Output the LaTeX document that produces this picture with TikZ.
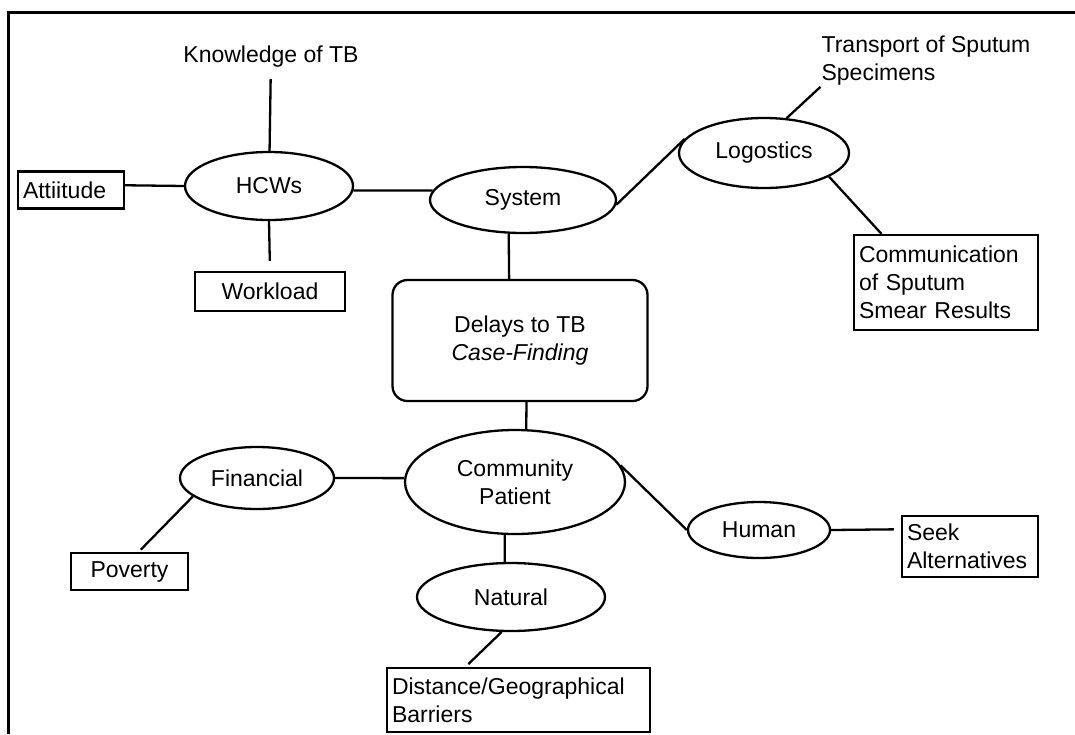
\documentclass[tikz,border=0pt]{standalone}
\usepackage{fontspec}
\setmainfont{Liberation Sans}
\usetikzlibrary{shapes.geometric}

\begin{document}
\begin{tikzpicture}[x=1pt,y=-1pt,line width=2.3pt,
	every node/.style={font=\fontsize{23}{28}\selectfont},
	oval/.style={draw,ellipse,inner sep=0pt},
	box/.style={draw,rectangle,inner xsep=5pt,inner ysep=2pt},
	lbox/.style={box,align=left}]
	\useasboundingbox (0,0) rectangle (1075,734);
	\draw[line width=3pt] (8,734) -- (8,12) -- (1075,12);
	% upper part
	\node (know) at (271,57) {Knowledge of TB};
	\node[oval,minimum width=168pt,minimum height=68pt] (hcw) at (269,186) {HCWs};
	\node[lbox,text width=96pt,minimum height=37pt] (att) at (71,190) {Attiitude};
	\node[box,minimum width=150pt,minimum height=39pt] (wl) at (270,291.5) {Workload};
	\node[oval,minimum width=186pt,minimum height=66pt] (sys) at (523,200) {System};
	\node[oval,minimum width=170pt,minimum height=70pt] (log) at (764,153) {Logostics};
	\node[align=left,inner sep=0pt] (trn) at (926,61) {Transport of Sputum\\Specimens};
	\node[lbox,text width=174pt,minimum height=95pt] (com) at (946,282.5) {Communication\\of Sputum\\Smear Results};
	\node[box,rounded corners=15pt,align=center,minimum width=255pt,minimum height=121pt] (dl) at (520,340.5) {Delays to TB\\\textit{Case-Finding}};
	% lower part
	\node[oval,minimum width=220pt,minimum height=104pt,align=center] (cp) at (515,482) {Community\\Patient};
	\node[oval,minimum width=154pt,minimum height=62pt] (fin) at (257,478) {Financial};
	\node[box,minimum width=117pt,minimum height=37pt] (pov) at (129.5,571.5) {Poverty};
	\node[oval,minimum width=188pt,minimum height=68pt] (nat) at (511,597) {Natural};
	\node[lbox,text width=253pt,minimum height=64pt] (dist) at (518.5,700) {Distance/Geographical\\Barriers};
	\node[oval,minimum width=142pt,minimum height=56pt] (hum) at (759,530) {Human};
	\node[lbox,text width=126pt,minimum height=61pt] (seek) at (970,546.5) {Seek\\Alternatives};
	\draw[shorten <=7pt] (know) -- (hcw);
	\draw (att.5) -- (hcw.west);
	\draw (hcw.-3) -- (sys.174);
	\draw[shorten >=10pt] (hcw.south) -- (wl.north);
	\draw (sys.247) -- (dl.100);
	\draw (sys.-3) -- (log.170);
	\draw (log.57) -- (trn.south west);
	\draw (log.-20) -- (com.143);
	\draw (dl.-84) -- (cp.78);
	\draw (fin.east) -- (cp.178);
	\draw[shorten >=3pt] (fin.196) -- (pov.65);
	\draw (cp.259) -- (nat.100);
	\draw[shorten >=4pt] (nat.255) -- (dist.148);
	\draw (cp.9) -- (hum.west);
	\draw[shorten >=7pt] (hum.east) -- (seek.166);
\end{tikzpicture}
\end{document}
